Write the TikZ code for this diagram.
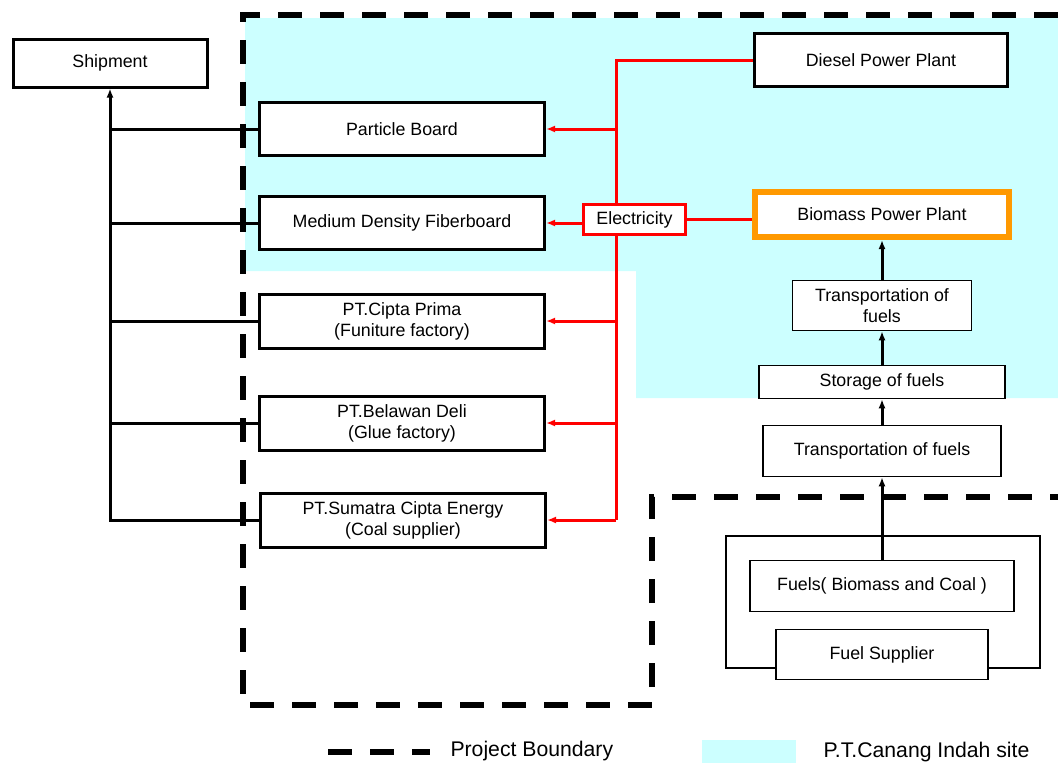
\documentclass[tikz,border=0pt]{standalone}
\usepackage{fontspec}
\setmainfont{Liberation Sans}
\usetikzlibrary{arrows,arrows.meta}
\definecolor{sitecyan}{HTML}{CCFFFF}
\definecolor{bioorange}{HTML}{FF9900}

\tikzset{
  unit/.style={draw, line width=3pt, fill=white, inner sep=0pt, align=center,
    font=\fontsize{17.8}{21}\selectfont},
  thin unit/.style={unit, line width=1.5pt},
  link/.style={line width=3pt},
  power/.style={draw=red, line width=3pt},
  tip/.style={-{Latex[length=9pt,width=7pt]}},
  boundary/.style={line width=5.5pt, dash pattern=on 24pt off 18pt},
  legend/.style={font=\fontsize{21.2}{25}\selectfont}
}

\begin{document}
\begin{tikzpicture}[x=1pt,y=-1pt]
  \useasboundingbox (0,0) rectangle (1058,763);
  % site and project boundary
  \fill[sitecyan] (245,18) -- (1058,18) -- (1058,398) -- (636,398)
    -- (636,271) -- (245,271) -- cycle;
  \draw[boundary] (1058,15) -- (243,15) -- (243,705) -- (652,705)
    -- (652,497) -- (1058,497);

  \node[unit, minimum width=194, minimum height=48] (ship) at (110,63) {Shipment};
  \node[unit, minimum width=285, minimum height=53] (pb)  at (402,129) {Particle Board};
  \node[unit, minimum width=285, minimum height=53] (mdf) at (402,223) {Medium Density Fiberboard};
  \node[unit, minimum width=285, minimum height=54] (cip) at (402,321) {PT.Cipta Prima\\(Funiture factory)};
  \node[unit, minimum width=285, minimum height=54] (bel) at (402,423) {PT.Belawan Deli\\(Glue factory)};
  \node[unit, minimum width=285, minimum height=54] (sum) at (403,520) {PT.Sumatra Cipta Energy\\(Coal supplier)};

  \node[unit, minimum width=253, minimum height=53] (diesel) at (881,60) {Diesel Power Plant};
  \node[unit, draw=bioorange, line width=6pt, minimum width=254, minimum height=45] (bio) at (882,214.5) {Biomass Power Plant};
  \node[unit, draw=red, minimum width=102, minimum height=30] (elec) at (634.5,219.5) {Electricity};

  \node[thin unit, minimum width=179, minimum height=50] (tr2) at (882,305.5) {Transportation of\\fuels};
  \node[thin unit, minimum width=246, minimum height=33] (sto) at (882,382) {Storage of fuels};
  \node[thin unit, minimum width=238, minimum height=51] (tr1) at (882,451) {Transportation of fuels};

  \draw[line width=1.5pt] (726,536) rectangle (1040,668);
  \node[thin unit, minimum width=264, minimum height=51] (fuel) at (882,586) {Fuels( Biomass and Coal )};
  \node[thin unit, minimum width=212, minimum height=50] (sup) at (882,654.5) {Fuel Supplier};

  % shipment lines
  \draw[link, tip] (sum.west) -| (ship.south);
  \foreach \b in {pb,mdf,cip,bel}
    \draw[link] (ship.south |- \b.west) -- (\b.west);

  % electricity bus
  \coordinate (bus) at (616,60);
  \draw[power] (diesel.west) -- (bus) -- (bus |- elec.north);
  \draw[power] (bus |- elec.south) -- (bus |- sum.east);
  \draw[power] (elec.east) -- (elec.east -| bio.west);
  \draw[power, tip] (bus |- pb.east) -- (pb.east);
  \draw[power, tip] (elec.west |- mdf.east) -- (mdf.east);
  \foreach \b in {cip,bel,sum}
    \draw[power, tip] (bus |- \b.east) -- (\b.east);

  % fuel chain
  \draw[link, tip] (tr2.north) -- (bio.south);
  \draw[link, tip] (sto.north) -- (tr2.south);
  \draw[link, tip] (tr1.north) -- (sto.south);
  \draw[link, tip] (fuel.north) -- (tr1.south);

  % legend
  \coordinate (lgA) at (328,752);
  \coordinate (lgB) at (430,752);
  \draw[boundary] (lgA) -- (lgB);
  \node[legend, anchor=west] (lgbound) at (447,751) {Project Boundary};
  \fill[sitecyan] (702,740) rectangle (796,763);
  \node[legend, anchor=west] (lgsite) at (820,752) {P.T.Canang Indah site};
\end{tikzpicture}
\end{document}
